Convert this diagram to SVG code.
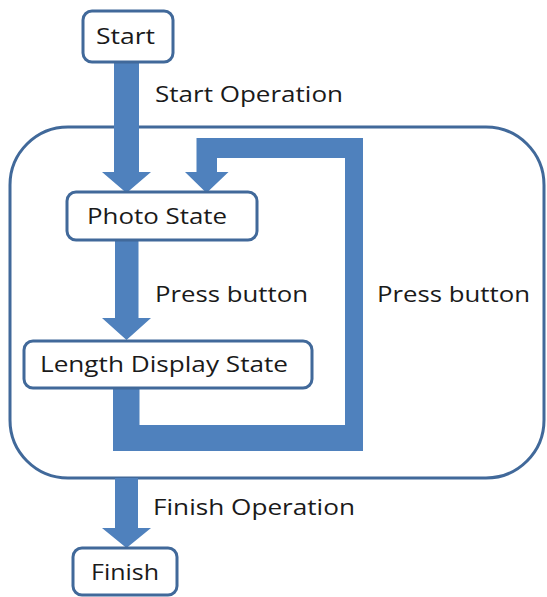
<svg xmlns="http://www.w3.org/2000/svg" width="547" height="597" viewBox="0 0 547 597">
<style>
.box{fill:#fff;stroke:#41699a;stroke-width:3}
.arr{fill:#4f81bd}
text{font-family:"Open Sans","Liberation Sans",sans-serif;font-size:22px;fill:#1a1a1a}
</style>
<rect width="547" height="597" fill="#fff"/>
<g id="container"><rect x="10" y="127" width="534" height="351" rx="58" fill="none" stroke="#41699a" stroke-width="3"/></g>
<g id="connectors">
<polygon class="arr" points="114,62 139,62 139,172 151,172 126.5,193 102,172 114,172"/>
<polygon class="arr" points="115,240 138.5,240 138.5,318 151,318 126.5,340 102,318 115,318"/>
<polygon class="arr" points="113,388 139.5,388 139.5,425 345,425 345,158 217,158 217,172 228.5,172 206.5,193 185,172 196.5,172 196.5,138 363,138 363,451 113,451"/>
<polygon class="arr" points="115,478 138,478 138,528 151,528 126.5,548 102,528 115,528"/>
</g>
<g id="start"><rect class="box" x="83" y="11" width="90" height="51" rx="9"/><text x="96" y="44" textLength="59" lengthAdjust="spacingAndGlyphs">Start</text></g>
<g id="photo"><rect class="box" x="67" y="192" width="190" height="48" rx="9"/><text x="87" y="224" textLength="140" lengthAdjust="spacingAndGlyphs">Photo State</text></g>
<g id="length"><rect class="box" x="24" y="341" width="288" height="47" rx="9"/><text x="40" y="372" textLength="248" lengthAdjust="spacingAndGlyphs">Length Display State</text></g>
<g id="finish"><rect class="box" x="73" y="548" width="104" height="47" rx="9"/><text x="91" y="580" textLength="68" lengthAdjust="spacingAndGlyphs">Finish</text></g>
<g id="labels">
<text x="155" y="102" textLength="188" lengthAdjust="spacingAndGlyphs">Start Operation</text>
<text x="155" y="302" textLength="153" lengthAdjust="spacingAndGlyphs">Press button</text>
<text x="377" y="302" textLength="153" lengthAdjust="spacingAndGlyphs">Press button</text>
<text x="153" y="515" textLength="202" lengthAdjust="spacingAndGlyphs">Finish Operation</text>
</g>
</svg>
